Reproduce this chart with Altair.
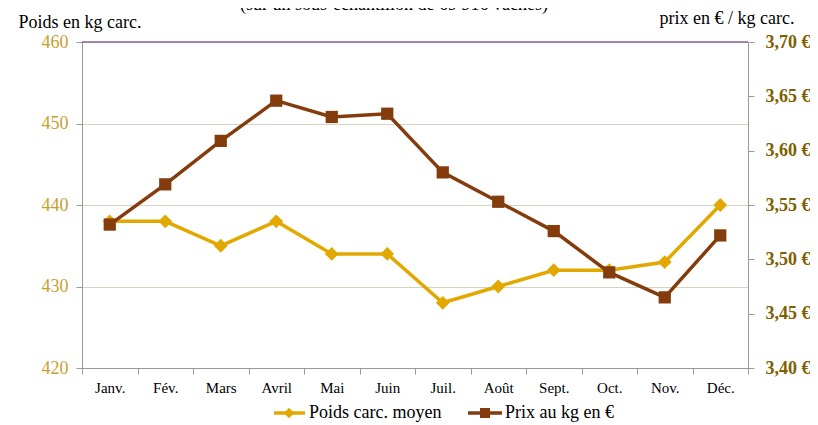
import altair as alt
import pandas as pd

months = ["Janv.", "Fév.", "Mars", "Avril", "Mai", "Juin", "Juil.", "Août", "Sept.", "Oct.", "Nov.", "Déc."]
weight = [438, 438, 435, 438, 434, 434, 428, 430, 432, 432, 433, 440]
price = [3.532, 3.569, 3.609, 3.646, 3.631, 3.634, 3.580, 3.553, 3.526, 3.488, 3.465, 3.522]
series = ["Poids carc. moyen", "Prix au kg en €"]
colors = ["#E3A800", "#843C0C"]
left_ticks = [420, 430, 440, 450, 460]
right_ticks = [3.40, 3.45, 3.50, 3.55, 3.60, 3.65, 3.70]
subtitle = "(sur un sous-échantillon de 69 916 vaches)"

df = pd.DataFrame({"mois": months, "poids": weight, "prix": price})
one = pd.DataFrame({"k": [0]})

FONT = "Liberation Serif, Times New Roman, serif"
W, H = 666, 326

xenc = alt.X(
    "mois:N", sort=months,
    scale=alt.Scale(type="band", paddingInner=0, paddingOuter=0),
    axis=alt.Axis(title=None, tickBand="extent", labelAngle=0, labelFont=FONT,
                  labelFontSize=15, labelColor="#000000", tickColor="#999999",
                  domainColor="#999999", tickSize=6, labelPadding=6, grid=False),
)

yl = alt.Y(
    "poids:Q",
    scale=alt.Scale(domain=[420, 460], nice=False, zero=False),
    axis=alt.Axis(title="Poids en kg carc.", titleAngle=0, titleX=-64, titleY=-20,
                  titleAlign="left", titleBaseline="middle", titleFont=FONT,
                  titleFontSize=18, titleFontWeight="normal", titleColor="#000000",
                  values=left_ticks, labelFont=FONT, labelFontSize=18,
                  labelColor="#C9A030", tickColor="#999999", domainColor="#999999",
                  tickSize=6, labelPadding=8, grid=True, gridColor="#D4D4C0"),
)

yr = alt.Y(
    "prix:Q",
    scale=alt.Scale(domain=[3.40, 3.70], nice=False, zero=False),
    axis=alt.Axis(orient="right", title="prix en € / kg carc.", titleAngle=0,
                  titleX=46, titleY=-24, titleAlign="right", titleBaseline="middle",
                  titleFont=FONT, titleFontSize=18, titleFontWeight="normal",
                  titleColor="#000000", values=right_ticks,
                  labelExpr="replace(format(datum.value, '.2f'), '.', ',') + ' €'",
                  labelFont=FONT, labelFontSize=18, labelFontWeight="bold",
                  labelColor="#7F6000", tickColor="#999999", domainColor="#999999",
                  tickSize=6, labelPadding=11, grid=False),
)

base = alt.Chart(df)
w_line = base.mark_line(color=colors[0], strokeWidth=3.5).encode(x=xenc, y=yl)
w_pts = base.mark_point(shape="diamond", filled=True, size=190, color=colors[0], opacity=1).encode(x=xenc, y=yl)
p_line = base.mark_line(color=colors[1], strokeWidth=3.5).encode(x=xenc, y=yr)
p_pts = base.mark_point(shape="square", filled=True, size=150, color=colors[1], opacity=1).encode(x=xenc, y=yr)

left = alt.layer(w_line, w_pts)
right = alt.layer(p_line, p_pts)

b1 = alt.Chart(one)
top_rule = b1.mark_rule(color="#7F64A0", strokeWidth=1.5).encode(x=alt.value(0), x2=alt.value(W), y=alt.value(0))
title_txt = b1.mark_text(font=FONT, fontSize=18, align="center", baseline="alphabetic", color="#000000").encode(
    x=alt.value(312), y=alt.value(-32), text=alt.value(subtitle))

LY = 371
leg = [
    b1.mark_rule(color=colors[0], strokeWidth=3.5).encode(x=alt.value(192), x2=alt.value(223), y=alt.value(LY)),
    b1.mark_point(shape="diamond", filled=True, size=110, color=colors[0], opacity=1).encode(x=alt.value(207), y=alt.value(LY)),
    b1.mark_text(font=FONT, fontSize=18, align="left", baseline="middle", color="#000000").encode(
        x=alt.value(227), y=alt.value(LY), text=alt.value(series[0])),
    b1.mark_rule(color=colors[1], strokeWidth=3.5).encode(x=alt.value(386), x2=alt.value(420), y=alt.value(LY)),
    b1.mark_point(shape="square", filled=True, size=100, color=colors[1], opacity=1).encode(x=alt.value(403), y=alt.value(LY)),
    b1.mark_text(font=FONT, fontSize=18, align="left", baseline="middle", color="#000000").encode(
        x=alt.value(423), y=alt.value(LY), text=alt.value(series[1])),
]

chart = alt.layer(left, right, top_rule, title_txt, *leg).resolve_scale(y="independent").properties(
    width=W, height=H,
    autosize=alt.AutoSizeParams(type="none"),
    padding={"left": 74, "top": 34, "right": 62, "bottom": 70},
).configure_view(fill="#FFFFC0", stroke=None).configure(background="#FFFFFF")

chart.save("out.html", embed_options={"renderer": "svg", "actions": False})
